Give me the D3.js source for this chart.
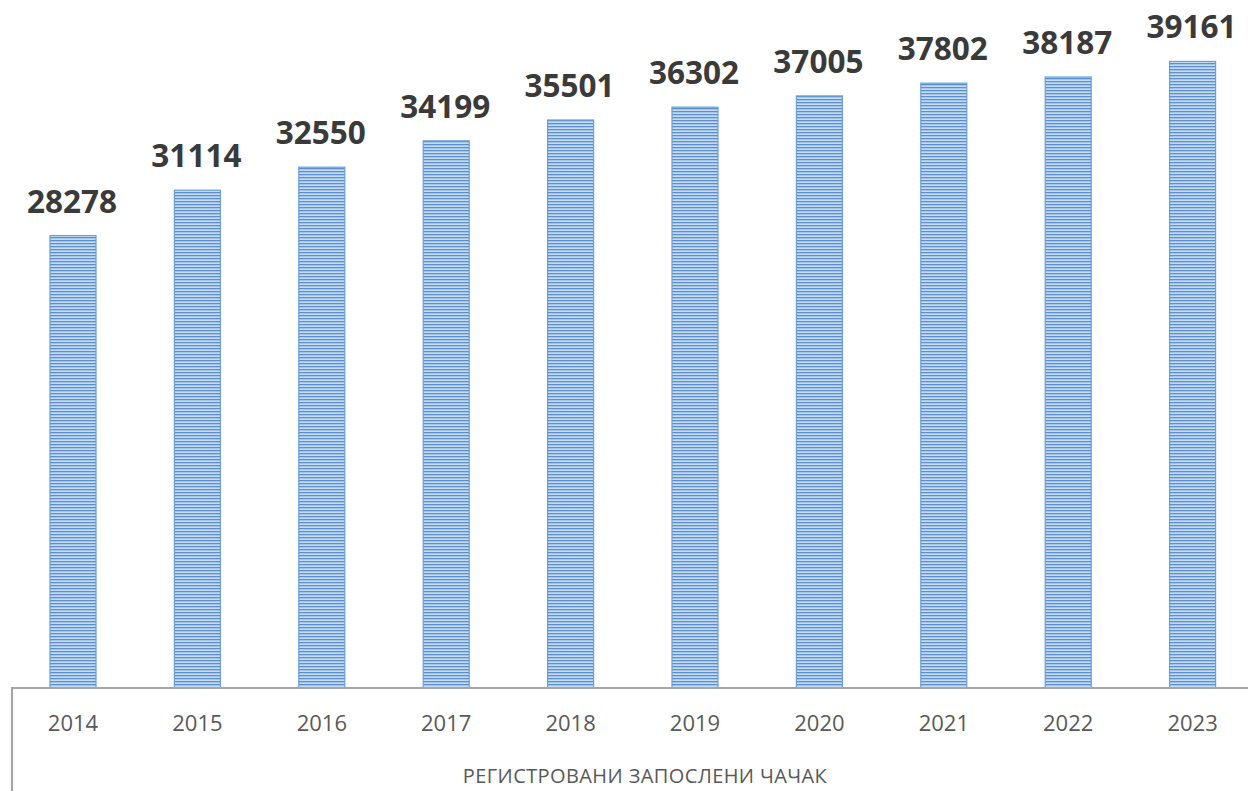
<!DOCTYPE html>
<html><head><meta charset="utf-8">
<script src="https://cdn.jsdelivr.net/npm/d3@7"></script>
<style>html,body{margin:0;padding:0;background:#fff;overflow:hidden}</style>
</head><body>
<svg id="c" width="1248" height="791"></svg>
<script>
const years = ["2014","2015","2016","2017","2018","2019","2020","2021","2022","2023"];
const values = [28278,31114,32550,34199,35501,36302,37005,37802,38187,39161];
const axisTitle = "РЕГИСТРОВАНИ ЗАПОСЛЕНИ ЧАЧАК";

const svg = d3.select("#c");
const W = 1248, H = 791, baseY = 688;

const defs = svg.append("defs");
const pat = defs.append("pattern").attr("id","hatch").attr("patternUnits","userSpaceOnUse")
  .attr("width",8).attr("height",3);
pat.append("rect").attr("width",8).attr("height",3).attr("fill","#c6dbf2");
pat.append("rect").attr("y",0).attr("width",8).attr("height",1.3).attr("fill","#5a90cf");

const x = d3.scaleBand().domain(years).range([10.8,1254.8]).paddingInner(0.63).paddingOuter(0.315);
const y = d3.scaleLinear().domain([0,43000]).range([baseY,0]);

svg.append("g").selectAll("rect").data(values).join("rect")
  .attr("x",(d,i)=>x(years[i]))
  .attr("y",d=>y(d))
  .attr("width",x.bandwidth())
  .attr("height",d=>baseY-y(d))
  .attr("fill","url(#hatch)")
  .attr("stroke","#6a9fd8").attr("stroke-width",1.2);

svg.append("g").selectAll("text").data(values).join("text")
  .attr("x",(d,i)=>x(years[i])+x.bandwidth()/2 - 1)
  .attr("y",d=>y(d)-23)
  .attr("text-anchor","middle")
  .attr("font-family","'Open Sans', sans-serif").attr("font-weight","bold")
  .attr("font-size",31.5).attr("fill","#3a3a3a")
  .text(d=>d);

// box
svg.append("path").attr("d",`M12,${H} V${baseY} H${W}`).attr("fill","none")
  .attr("stroke","#a6a6a6").attr("stroke-width",2.2);

// axis labels
const ax = svg.append("g").attr("transform",`translate(0,${baseY})`)
  .call(d3.axisBottom(x).tickSize(0).tickPadding(0));
ax.select(".domain").remove();
ax.selectAll("text").attr("y",43).attr("dy",0)
  .attr("font-family","'Open Sans', sans-serif").attr("font-size",22).attr("fill","#595959");

svg.append("text").attr("x",645).attr("y",783).attr("text-anchor","middle")
  .attr("font-family","'Open Sans', sans-serif").attr("font-size",20).attr("fill","#595959")
  .attr("letter-spacing",0.4)
  .text(axisTitle);
</script>
</body></html>
